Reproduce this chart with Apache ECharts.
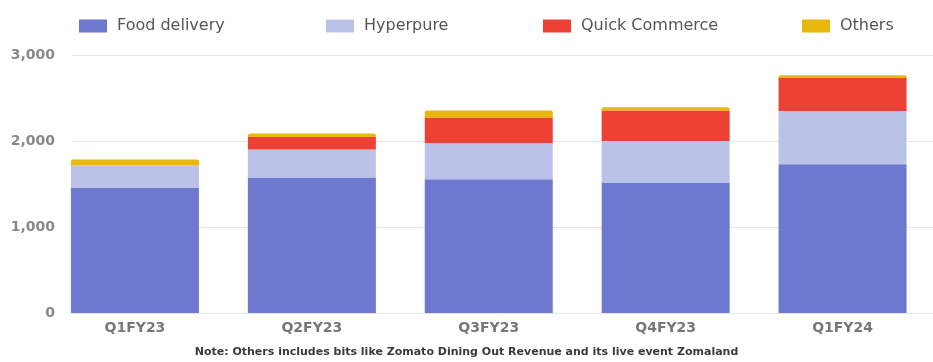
<!DOCTYPE html>
<html>
<head>
<meta charset="utf-8">
<script src="https://cdn.jsdelivr.net/npm/echarts@6/dist/echarts.min.js"></script>
<style>
html,body{margin:0;padding:0;background:#fff;}
#chart{width:933px;height:362px;}
</style>
</head>
<body>
<div id="chart"></div>
<script>
const categories = ['Q1FY23', 'Q2FY23', 'Q3FY23', 'Q4FY23', 'Q1FY24'];
const foodDelivery = [1462, 1578, 1558, 1520, 1733];
const hyperpure = [255, 325, 419, 483, 619];
const quickCommerce = [0, 147, 299, 354, 384];
const others = [70, 39, 81, 38, 31];
const yTicks = [0, 1000, 2000, 3000];
const seriesNames = ['Food delivery', 'Hyperpure', 'Quick Commerce', 'Others'];
const noteText = 'Note: Others includes bits like Zomato Dining Out Revenue and its live event Zomaland';

const colors = ['#6c79ce', '#bbc2e8', '#ec4134', '#e8b90c'];
const legendLeft = [74, 321, 538, 797];
const FONT = 'DejaVu Sans';

const chart = echarts.init(document.getElementById('chart'), null, {renderer: 'canvas'});

const legends = seriesNames.map((n, i) => ({
  data: [n],
  left: legendLeft[i],
  top: 13,
  icon: 'rect',
  itemWidth: 28,
  itemHeight: 13,
  selectedMode: false,
  textStyle: {fontFamily: FONT, fontSize: 16, color: '#555', padding: [0, 0, 0, 5]}
}));

const dataSets = [foodDelivery, hyperpure, quickCommerce, others];

chart.setOption({
  animation: false,
  backgroundColor: '#fff',
  textStyle: {fontFamily: FONT},
  legend: legends,
  graphic: [{
    type: 'text',
    left: 'center',
    top: 347,
    style: {text: noteText, font: '600 11px "DejaVu Sans"', fill: '#3a3a3a'}
  }],
  grid: [
    {left: 46.5, right: 2, top: 55.3, bottom: 49},
    {left: 72, right: 0, top: 55.3, bottom: 49}
  ],
  xAxis: [
    {
      gridIndex: 0, type: 'category', data: categories,
      axisLine: {show: false}, axisTick: {show: false},
      axisLabel: {margin: 8, fontSize: 14, fontWeight: 600, color: '#777', fontFamily: FONT}
    },
    {gridIndex: 1, type: 'value', show: false, min: 0, max: 1}
  ],
  yAxis: [
    {gridIndex: 0, type: 'value', min: 0, max: 3000, show: false},
    {
      gridIndex: 1, type: 'value', min: yTicks[0], max: yTicks[yTicks.length - 1], interval: 1000,
      axisLine: {show: false}, axisTick: {show: false},
      splitLine: {lineStyle: {color: '#e6e6e6', width: 1}},
      axisLabel: {
        margin: 17, fontSize: 14, fontWeight: 600, color: '#888', fontFamily: FONT,
        formatter: v => v.toLocaleString('en-US')
      }
    }
  ],
  series: seriesNames.map((n, i) => ({
    name: n,
    type: 'bar',
    stack: 'total',
    xAxisIndex: 0,
    yAxisIndex: 0,
    barWidth: 128,
    data: dataSets[i],
    itemStyle: {color: colors[i], borderRadius: i === 3 ? [2, 2, 0, 0] : 0}
  }))
});
</script>
</body>
</html>
